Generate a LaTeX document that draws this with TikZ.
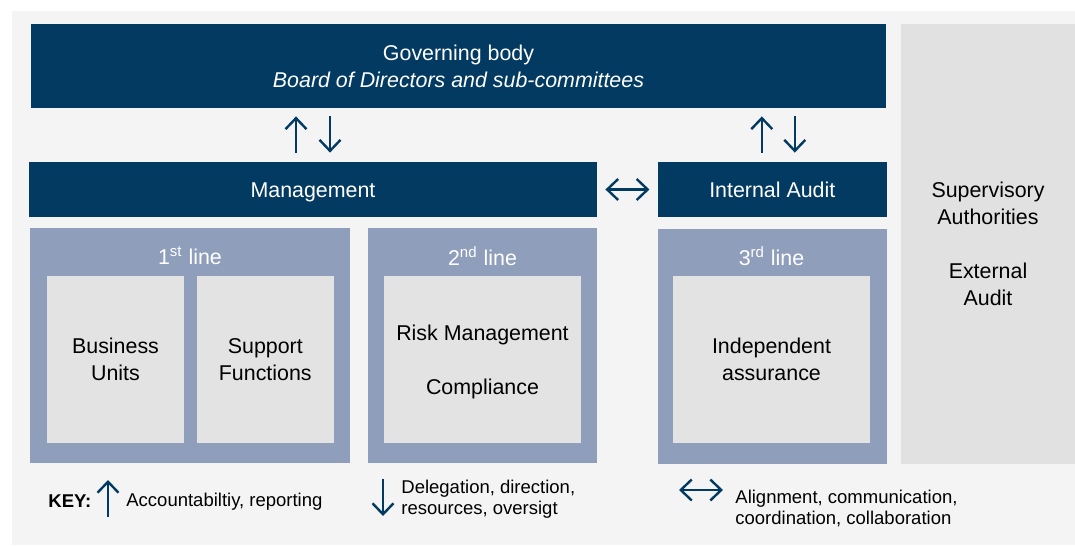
\documentclass[tikz,border=0pt]{standalone}
\usepackage{fontspec}
\setmainfont{Liberation Sans}
\usetikzlibrary{arrows.meta, positioning}
\definecolor{navy}{HTML}{023A62}
\definecolor{azulgris}{HTML}{8E9EBB}
\definecolor{grisclaro}{HTML}{E3E3E3}
\definecolor{fondo}{HTML}{F4F4F4}
\definecolor{panel}{HTML}{E1E1E1}

\begin{document}
\begin{tikzpicture}[x=0.5pt, y=-0.5pt, >={Straight Barb[length=5.5pt, width=10.5pt]}]
    % Estilos
    \tikzstyle{block} = [fill=navy, text=white, inner sep=0pt, minimum height=27.5pt, align=center, font=\fontsize{10.7}{13.5}\selectfont]
    \tikzstyle{linea} = [fill=azulgris, inner sep=0pt, minimum height=117.5pt]
    \tikzstyle{caja} = [fill=grisclaro, inner sep=0pt, minimum height=83.5pt, text depth=0pt, align=center, font=\fontsize{10.7}{13.5}\selectfont]
    \tikzstyle{rotulo} = [text=white, inner sep=0pt, font=\fontsize{10.7}{13.5}\selectfont]
    \tikzstyle{clave} = [inner sep=0pt, anchor=west, align=left, font=\fontsize{9.25}{10.25}\selectfont]
    \tikzstyle{flecha} = [draw=navy, line width=1.2pt]

    \useasboundingbox (0,0) rectangle (1075,546);
    \fill[fondo] (12,11) rectangle (1075,545); % Fondo

    % Nodos
    \node[block, minimum width=427.5pt, minimum height=42pt] (gov) at (458.5,66) {Governing body\\\textit{Board of Directors and sub-committees}};
    \node[fill=panel, inner sep=0pt, minimum width=87pt, minimum height=220pt, align=center, font=\fontsize{10.7}{13.5}\selectfont] (sup) at (988,244) {Supervisory\\Authorities\\[13.5pt]External\\Audit};
    \node[block, minimum width=284pt, text height=7.7pt, text depth=0pt] (mgmt) at (313,189.5) {Management};
    \node[block, minimum width=114.5pt, text height=7.7pt, text depth=0pt, right=30pt of mgmt] (ia) {Internal Audit};

    \node[linea, minimum width=160pt] (l1) at (190,345.5) {};
    \node[linea, minimum width=114.5pt] (l2) at (482.5,345.5) {};
    \node[linea, minimum width=114.5pt, below=5.5pt of ia] (l3) {};
    \node[rotulo] (r1) at (190,256) {1\textsuperscript{st} line};
    \node[rotulo] (r2) at (482.5,256) {2\textsuperscript{nd} line};
    \node[rotulo] (r3) at (771.5,256) {3\textsuperscript{rd} line};

    \node[caja, minimum width=68.5pt] (bu) at (115.5,359.5) {Business\\Units};
    \node[caja, minimum width=68.5pt, right=6pt of bu] (sf) {Support\\Functions};
    \node[caja, minimum width=98.5pt] (rm) at (482.5,359.5) {Risk Management\\[13.5pt]Compliance};
    \node[caja, minimum width=98.5pt] (ind) at (771.5,359.5) {Independent\\assurance};

    % Flechas
    \draw[flecha, ->, shorten <=4.5pt, shorten >=4pt] ([xshift=-8.5pt]mgmt.north) -- ([xshift=-8.5pt]mgmt.north |- gov.south);
    \draw[flecha, ->, shorten <=4pt, shorten >=4.5pt] ([xshift=8.5pt]mgmt.north |- gov.south) -- ([xshift=8.5pt]mgmt.north);
    \draw[flecha, ->, shorten <=4.5pt, shorten >=4pt] ([xshift=-5.25pt]ia.north) -- ([xshift=-5.25pt]ia.north |- gov.south);
    \draw[flecha, ->, shorten <=4pt, shorten >=4.5pt] ([xshift=11.25pt]ia.north |- gov.south) -- ([xshift=11.25pt]ia.north);
    \draw[flecha, <->, shorten <=4pt, shorten >=4pt] (mgmt) -- (ia);

    % Clave
    \node[clave, font=\fontsize{9.25}{10.25}\selectfont\bfseries] (key) at (48,501) {KEY:};
    \coordinate (k1a) at (108,517);
    \coordinate (k1b) at (108,480);
    \draw[flecha, ->] (k1a) -- (k1b);
    \node[clave] (acc) at (126,502) {Accountabiltiy, reporting};
    \coordinate (k2a) at (383,479);
    \coordinate (k2b) at (383,516);
    \draw[flecha, ->] (k2a) -- (k2b);
    \node[clave] (del) at (401,499) {Delegation, direction,\\resources, oversigt};
    \coordinate (k3a) at (679,490);
    \coordinate (k3b) at (723,490);
    \draw[flecha, <->] (k3a) -- (k3b);
    \node[clave] (ali) at (735,508.5) {Alignment, communication,\\coordination, collaboration};
\end{tikzpicture}
\end{document}
